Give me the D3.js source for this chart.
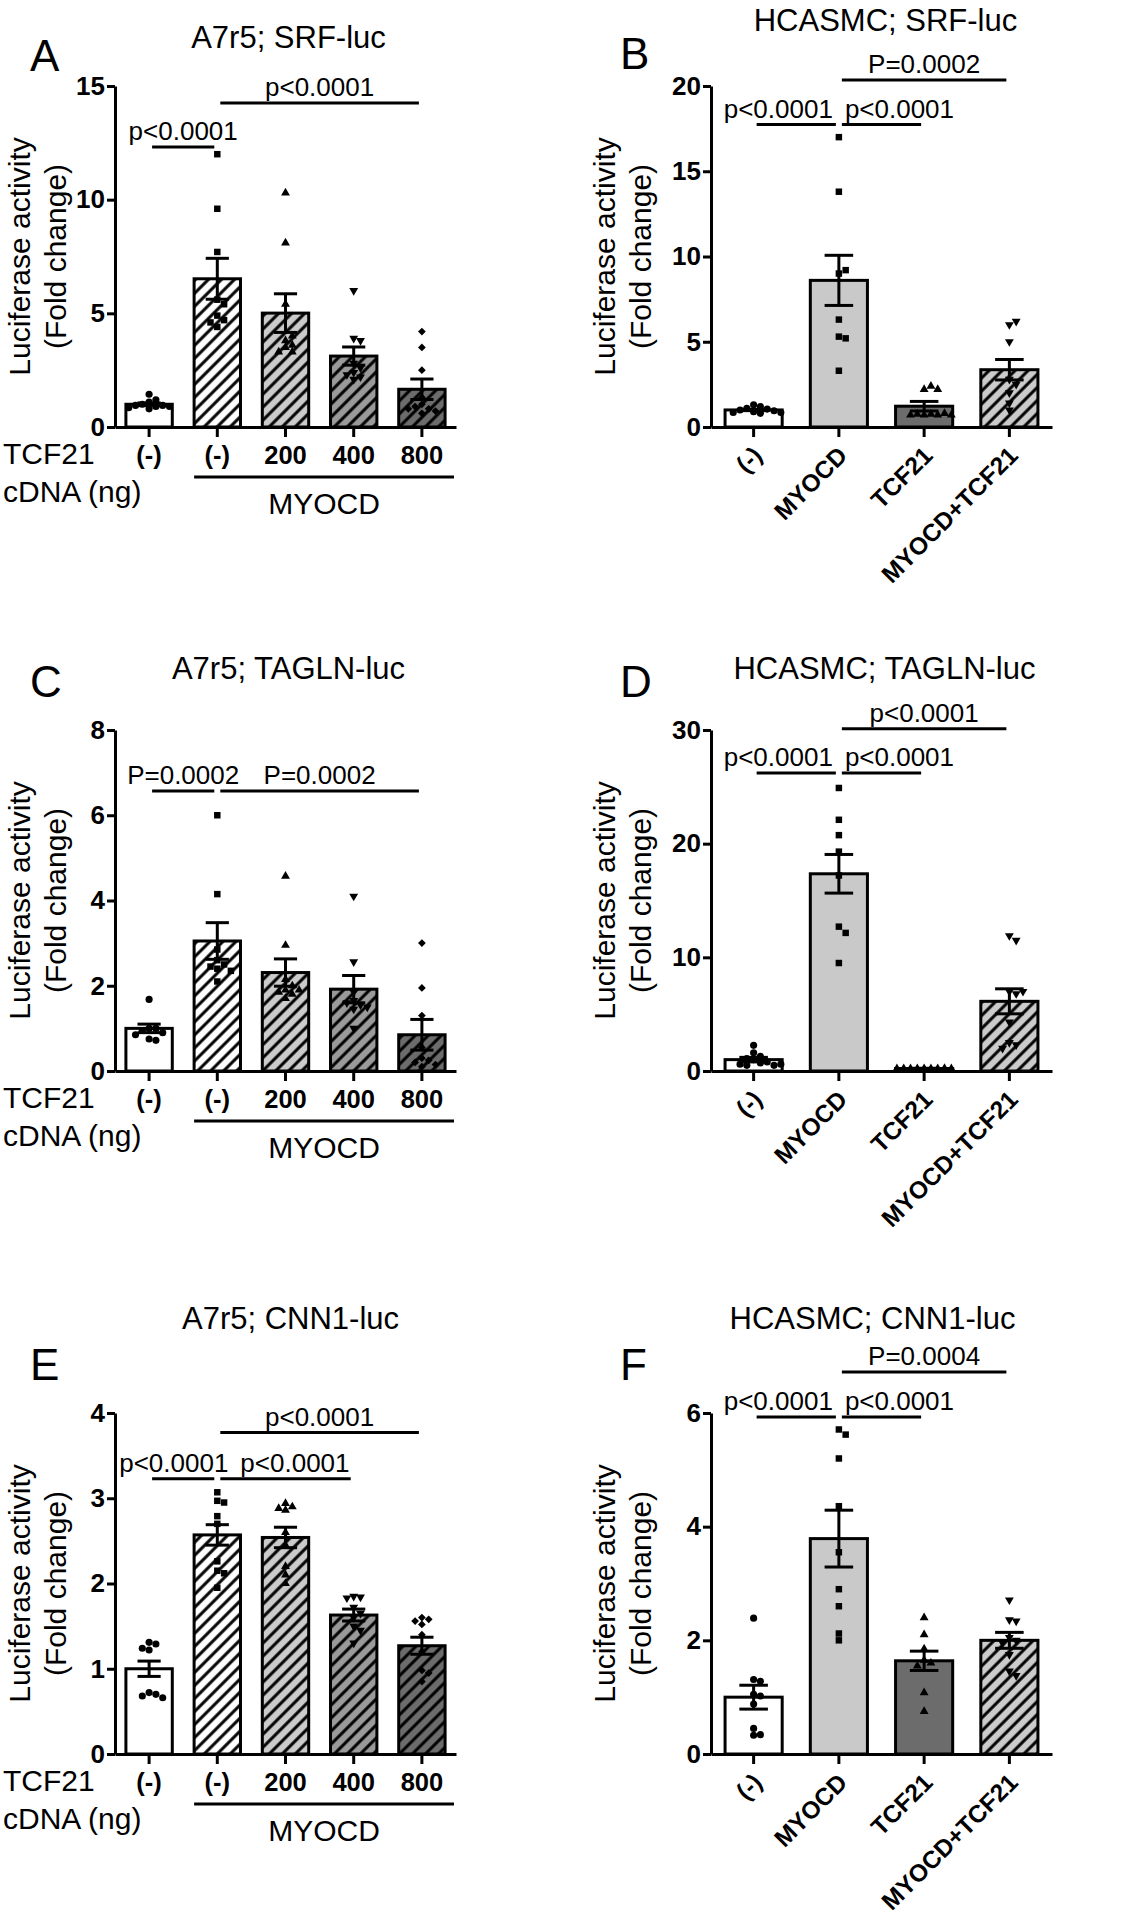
<!DOCTYPE html>
<html>
<head>
<meta charset="utf-8">
<title>TCF21 / MYOCD luciferase assays</title>
<script src="https://d3js.org/d3.v7.min.js"></script>
<style>
  body { margin: 0; background: #fff; }
  svg { display: block; font-family: "Liberation Sans", Arial, sans-serif; }
  .axis path, .axis line { stroke: #000; stroke-width: 3; }
  .axis text { font-size: 26px; font-weight: bold; fill: #000; }
  .title { font-size: 31px; }
  .letter { font-size: 44px; }
  .ylab { font-size: 30px; }
  .sig { font-size: 26px; }
  .side { font-size: 30px; }
</style>
</head>
<body>
<svg width="1132" height="1920"></svg>
<script>
// groups on the x axis
const doseGroups = ["(-)", "(-)", "200", "400", "800"];
const treatGroups = ["(-)", "MYOCD", "TCF21", "MYOCD+TCF21"];

// A: A7r5; SRF-luc
const srfA7r5Ticks = [0, 5, 10, 15];
const srfA7r5Mean = [1.0, 6.52, 5.01, 3.12, 1.66];
const srfA7r5Sem = [0.06, 0.9, 0.85, 0.4, 0.45];
const srfA7r5Pts = [
  [1.44, 1.2, 1.1, 1.0, 0.95, 0.95, 0.9, 0.9, 0.85, 0.8],
  [12.0, 9.6, 7.7, 5.6, 5.4, 4.9, 4.7, 4.4, 4.6],
  [10.3, 8.1, 5.4, 3.8, 3.5, 3.3, 3.6, 4.0, 3.3],
  [6.0, 3.9, 3.8, 2.8, 2.6, 2.4, 2.2, 2.3, 2.1],
  [4.2, 3.5, 2.5, 1.3, 1.0, 0.8, 0.9, 0.6, 0.7, 0.8]
];
const srfA7r5Sig = [
  { a: 0, b: 1, y: 12.32, text: "p<0.0001" },
  { a: 1, b: 4, y: 14.25, text: "p<0.0001" }
];

// B: HCASMC; SRF-luc
const srfHcasmcTicks = [0, 5, 10, 15, 20];
const srfHcasmcMean = [1.0, 8.6, 1.22, 3.36];
const srfHcasmcSem = [0.04, 1.47, 0.28, 0.6];
const srfHcasmcPts = [
  [1.3, 1.2, 1.1, 1.05, 1.0, 0.95, 0.9, 0.85, 0.8, 0.85],
  [17.0, 13.8, 9.0, 9.2, 6.3, 5.3, 5.2, 3.3],
  [2.2, 2.2, 2.4, 0.7, 0.7, 0.7, 0.7, 0.75, 0.75, 0.8],
  [6.0, 6.2, 5.0, 2.8, 2.5, 2.0, 1.4, 1.0]
];
const srfHcasmcSig = [
  { a: 0, b: 1, y: 17.74, text: "p<0.0001" },
  { a: 1, b: 2, y: 17.74, text: "p<0.0001" },
  { a: 1, b: 3, y: 20.35, text: "P=0.0002" }
];

// C: A7r5; TAGLN-luc
const taglnA7r5Ticks = [0, 2, 4, 6, 8];
const taglnA7r5Mean = [1.0, 3.05, 2.31, 1.92, 0.85];
const taglnA7r5Sem = [0.1, 0.43, 0.32, 0.32, 0.36];
const taglnA7r5Pts = [
  [1.68, 1.0, 1.0, 0.95, 0.9, 0.85, 0.75, 0.72],
  [6.0, 4.15, 2.85, 2.6, 2.5, 2.45, 2.4, 2.35, 2.1],
  [4.57, 2.95, 2.15, 2.0, 1.9, 1.85, 1.8, 1.9, 1.7],
  [4.1, 2.56, 1.85, 1.65, 1.55, 1.6, 1.5, 1.45, 1.0],
  [3.0, 1.95, 1.3, 0.55, 0.3, 0.25, 0.2, 0.15, 0.1]
];
const taglnA7r5Sig = [
  { a: 0, b: 1, y: 6.57, text: "P=0.0002" },
  { a: 1, b: 4, y: 6.57, text: "P=0.0002" }
];

// D: HCASMC; TAGLN-luc
const taglnHcasmcTicks = [0, 10, 20, 30];
const taglnHcasmcMean = [1.0, 17.35, 0.22, 6.13];
const taglnHcasmcSem = [0.2, 1.7, 0.02, 1.1];
const taglnHcasmcPts = [
  [2.26, 1.6, 1.3, 1.1, 1.0, 0.8, 0.7, 0.6, 0.5, 0.5, 0.6],
  [24.9, 22.1, 20.75, 19.3, 17.2, 12.7, 12.15, 9.5],
  [0.22, 0.2, 0.22, 0.21, 0.2, 0.23, 0.22, 0.2, 0.21],
  [11.9, 11.5, 7.0, 7.0, 6.8, 4.3, 2.5, 2.3, 2.0]
];
const taglnHcasmcSig = [
  { a: 0, b: 1, y: 26.22, text: "p<0.0001" },
  { a: 1, b: 2, y: 26.22, text: "p<0.0001" },
  { a: 1, b: 3, y: 30.12, text: "p<0.0001" }
];

// E: A7r5; CNN1-luc
const cnn1A7r5Ticks = [0, 1, 2, 3, 4];
const cnn1A7r5Mean = [1.0, 2.57, 2.54, 1.63, 1.27];
const cnn1A7r5Sem = [0.09, 0.12, 0.12, 0.07, 0.1];
const cnn1A7r5Pts = [
  [1.31, 1.29, 1.24, 1.22, 0.72, 0.7, 0.68, 0.66],
  [3.07, 2.97, 2.95, 2.79, 2.7, 2.26, 2.15, 2.12, 1.95],
  [2.94, 2.9, 2.88, 2.86, 2.6, 2.45, 2.2, 2.1, 2.0],
  [1.85, 1.84, 1.83, 1.72, 1.65, 1.6, 1.5, 1.45, 1.3],
  [1.6, 1.58, 1.56, 1.52, 1.4, 1.2, 0.98, 0.95, 0.85]
];
const cnn1A7r5Sig = [
  { a: 0, b: 1, y: 3.23, text: "p<0.0001" },
  { a: 1, b: 3, y: 3.23, text: "p<0.0001" },
  { a: 1, b: 4, y: 3.77, text: "p<0.0001" }
];

// F: HCASMC; CNN1-luc
const cnn1HcasmcTicks = [0, 2, 4, 6];
const cnn1HcasmcMean = [1.0, 3.79, 1.64, 2.0];
const cnn1HcasmcSem = [0.21, 0.5, 0.17, 0.14];
const cnn1HcasmcPts = [
  [2.39, 1.31, 1.28, 1.05, 1.02, 0.88, 0.45, 0.34, 0.33],
  [5.71, 5.62, 5.2, 4.36, 3.55, 2.9, 2.6, 2.12, 2.0],
  [2.4, 2.1, 1.85, 1.65, 1.6, 1.55, 1.08, 0.75],
  [2.71, 2.36, 2.34, 2.05, 2.0, 1.95, 1.75, 1.46, 1.38]
];
const cnn1HcasmcSig = [
  { a: 0, b: 1, y: 5.93, text: "p<0.0001" },
  { a: 1, b: 2, y: 5.93, text: "p<0.0001" },
  { a: 1, b: 3, y: 6.72, text: "P=0.0004" }
];

// layout
const colX = [115, 711];
const rowY = [86, 730, 1413];
const W = 341, H = 341;

const doseStyle = [
  { fill: "#ffffff", hatch: false }, { fill: "#ffffff", hatch: true },
  { fill: "#cbcbcb", hatch: true }, { fill: "#9a9a9a", hatch: true },
  { fill: "#6c6c6c", hatch: true }
];
const treatStyle = [
  { fill: "#ffffff", hatch: false }, { fill: "#c9c9c9", hatch: false },
  { fill: "#6c6c6c", hatch: false }, { fill: "#cbcbcb", hatch: true }
];
const markers = ["circle", "square", "up", "down", "diamond"];

const panels = [
  { key: "A", title: "A7r5; SRF-luc", cats: doseGroups, mean: srfA7r5Mean, sem: srfA7r5Sem, pts: srfA7r5Pts, ticks: srfA7r5Ticks, sig: srfA7r5Sig, col: 0, row: 0, titleDx: 3, titleDy: -38, letterY: 71 },
  { key: "B", title: "HCASMC; SRF-luc", cats: treatGroups, mean: srfHcasmcMean, sem: srfHcasmcSem, pts: srfHcasmcPts, ticks: srfHcasmcTicks, sig: srfHcasmcSig, col: 1, row: 0, titleDx: 4, titleDy: -55, letterY: 69 },
  { key: "C", title: "A7r5; TAGLN-luc", cats: doseGroups, mean: taglnA7r5Mean, sem: taglnA7r5Sem, pts: taglnA7r5Pts, ticks: taglnA7r5Ticks, sig: taglnA7r5Sig, col: 0, row: 1, titleDx: 3, titleDy: -51, letterY: 697 },
  { key: "D", title: "HCASMC; TAGLN-luc", cats: treatGroups, mean: taglnHcasmcMean, sem: taglnHcasmcSem, pts: taglnHcasmcPts, ticks: taglnHcasmcTicks, sig: taglnHcasmcSig, col: 1, row: 1, titleDx: 3, titleDy: -51, letterY: 697 },
  { key: "E", title: "A7r5; CNN1-luc", cats: doseGroups, mean: cnn1A7r5Mean, sem: cnn1A7r5Sem, pts: cnn1A7r5Pts, ticks: cnn1A7r5Ticks, sig: cnn1A7r5Sig, col: 0, row: 2, titleDx: 5, titleDy: -84, letterY: 1380 },
  { key: "F", title: "HCASMC; CNN1-luc", cats: treatGroups, mean: cnn1HcasmcMean, sem: cnn1HcasmcSem, pts: cnn1HcasmcPts, ticks: cnn1HcasmcTicks, sig: cnn1HcasmcSig, col: 1, row: 2, titleDx: -9, titleDy: -84, letterY: 1380 }
];

const svg = d3.select("svg");
const defs = svg.append("defs");

// hatch patterns, one per background colour
const hatchFills = ["#ffffff", "#cbcbcb", "#9a9a9a", "#6c6c6c"];
hatchFills.forEach(c => {
  const pat = defs.append("pattern")
    .attr("id", "hatch" + c.slice(1))
    .attr("patternUnits", "userSpaceOnUse")
    .attr("width", 9.2).attr("height", 9.2)
    .attr("patternTransform", "rotate(45)");
  pat.append("rect").attr("width", 9.2).attr("height", 9.2).attr("fill", c);
  pat.append("line").attr("x1", 4.6).attr("y1", 0).attr("x2", 4.6).attr("y2", 9.2)
    .attr("stroke", "#000").attr("stroke-width", 3);
});

function symbolPath(kind) {
  if (kind === "circle") return d3.symbol(d3.symbolCircle, 40)();
  if (kind === "square") return d3.symbol(d3.symbolSquare, 42)();
  if (kind === "diamond") return d3.symbol(d3.symbolSquare, 30)();
  return d3.symbol(d3.symbolTriangle, 34)();
}
function symbolRot(kind) {
  if (kind === "down") return 180;
  if (kind === "diamond") return 45;
  return 0;
}

// simple beeswarm so equal values spread sideways
function swarm(vals, y, cx, d) {
  const placed = [];
  const offs = [0];
  for (let i = 1; i < 12; i++) offs.push(i * d, -i * d);
  return vals.map(v => {
    const py = y(v);
    let px = cx;
    for (const o of offs) {
      px = cx + o;
      if (placed.every(q => Math.hypot(q[0] - px, q[1] - py) >= d)) break;
    }
    placed.push([px, py]);
    return [px, py];
  });
}

panels.forEach(p => {
  const x0 = colX[p.col], y0 = rowY[p.row];
  const dose = p.col === 0;
  const styles = dose ? doseStyle : treatStyle;
  const g = svg.append("g");

  const x = d3.scaleBand().domain(d3.range(p.cats.length)).range([x0, x0 + W]);
  const y = d3.scaleLinear().domain([0, d3.max(p.ticks)]).range([y0 + H, y0]);
  const bw = x.bandwidth() * (dose ? 0.68 : 0.67);
  const cx = i => x(i) + x.bandwidth() / 2;

  // bars
  p.mean.forEach((m, i) => {
    const st = styles[i];
    g.append("rect")
      .attr("x", cx(i) - bw / 2).attr("y", y(m))
      .attr("width", bw).attr("height", y(0) - y(m))
      .attr("fill", st.hatch ? "url(#hatch" + st.fill.slice(1) + ")" : st.fill)
      .attr("stroke", "#000").attr("stroke-width", 3);
  });

  // individual points
  p.pts.forEach((vals, i) => {
    const kind = markers[i];
    swarm(vals, y, cx(i), 6.8).forEach(([px, py]) => {
      g.append("path")
        .attr("d", symbolPath(kind))
        .attr("transform", `translate(${px},${py}) rotate(${symbolRot(kind)})`)
        .attr("fill", "#000");
    });
  });

  // error bars (mean ± SEM)
  p.mean.forEach((m, i) => {
    const c = cx(i), cap = bw * 0.5;
    const eg = g.append("g").attr("stroke", "#000").attr("stroke-width", 3);
    eg.append("line").attr("x1", c).attr("x2", c).attr("y1", y(m - p.sem[i])).attr("y2", y(m + p.sem[i]));
    eg.append("line").attr("x1", c - cap / 2).attr("x2", c + cap / 2).attr("y1", y(m + p.sem[i])).attr("y2", y(m + p.sem[i]));
    eg.append("line").attr("x1", c - cap / 2).attr("x2", c + cap / 2).attr("y1", y(m - p.sem[i])).attr("y2", y(m - p.sem[i]));
  });

  // axes
  g.append("g").attr("class", "axis")
    .attr("transform", `translate(${x0},0)`)
    .call(d3.axisLeft(y).tickValues(p.ticks).tickSize(8).tickSizeOuter(0).tickPadding(2).tickFormat(d3.format("d")));

  const xa = g.append("g").attr("class", "axis")
    .attr("transform", `translate(0,${y0 + H})`)
    .call(d3.axisBottom(x).tickSize(10).tickSizeOuter(0).tickPadding(9).tickFormat(i => p.cats[i]));
  xa.selectAll("text").style("font-size", "25.5px");
  if (!dose) {
    xa.selectAll("text")
      .style("font-size", "24.5px")
      .attr("x", 0).attr("y", 0).attr("dy", 0)
      .attr("text-anchor", "end")
      .attr("transform", "translate(10,30) rotate(-45)");
  }

  // row labels under the dose panels
  if (dose) {
    const base = y0 + H;
    g.append("text").attr("class", "side").attr("x", 3).attr("y", base + 37).text("TCF21");
    g.append("text").attr("class", "side").attr("x", 3).attr("y", base + 75).text("cDNA (ng)");
    const lx1 = cx(1) - bw / 2, lx2 = x0 + W - 2;
    g.append("line").attr("x1", lx1).attr("x2", lx2).attr("y1", base + 50).attr("y2", base + 50)
      .attr("stroke", "#000").attr("stroke-width", 3);
    g.append("text").attr("class", "side").attr("x", (lx1 + lx2) / 2).attr("y", base + 87)
      .attr("text-anchor", "middle").text("MYOCD");
  }

  // y axis title
  const yl = g.append("text").attr("class", "ylab").attr("text-anchor", "middle")
    .attr("transform", `translate(${x0 + (dose ? -85 : -96)},${y0 + H / 2}) rotate(-90)`);
  yl.append("tspan").attr("x", 0).attr("y", 0).text("Luciferase activity");
  yl.append("tspan").attr("x", 0).attr("y", 36).text("(Fold change)");

  // title and panel letter
  g.append("text").attr("class", "title").attr("text-anchor", "middle")
    .attr("x", x0 + W / 2 + p.titleDx).attr("y", y0 + p.titleDy).text(p.title);
  g.append("text").attr("class", "letter")
    .attr("x", dose ? 30 : 620).attr("y", p.letterY).text(p.key);

  // significance lines
  const inset = 3;
  const labels = p.sig.map(s => {
    const yy = y(s.y);
    const x1 = cx(s.a) + inset, x2 = cx(s.b) - inset;
    g.append("line").attr("x1", x1).attr("x2", x2).attr("y1", yy).attr("y2", yy)
      .attr("stroke", "#000").attr("stroke-width", 3);
    const t = g.append("text").attr("class", "sig").attr("text-anchor", "middle")
      .attr("x", (x1 + x2) / 2).attr("y", yy - 7).text(s.text);
    return { t, yy, c: (x1 + x2) / 2, w: t.node().getComputedTextLength() };
  });
  // push apart labels that share a level and overlap
  d3.groups(labels, l => l.yy).forEach(([, row]) => {
    row.sort((a, b) => a.c - b.c);
    for (let k = 1; k < row.length; k++) {
      const L = row[k - 1], R = row[k];
      const need = (L.w + R.w) / 2 + 12 - (R.c - L.c);
      if (need > 0) { L.c -= need / 2; R.c += need / 2; }
    }
    row.forEach(l => l.t.attr("x", l.c));
  });
});
</script>
</body>
</html>
